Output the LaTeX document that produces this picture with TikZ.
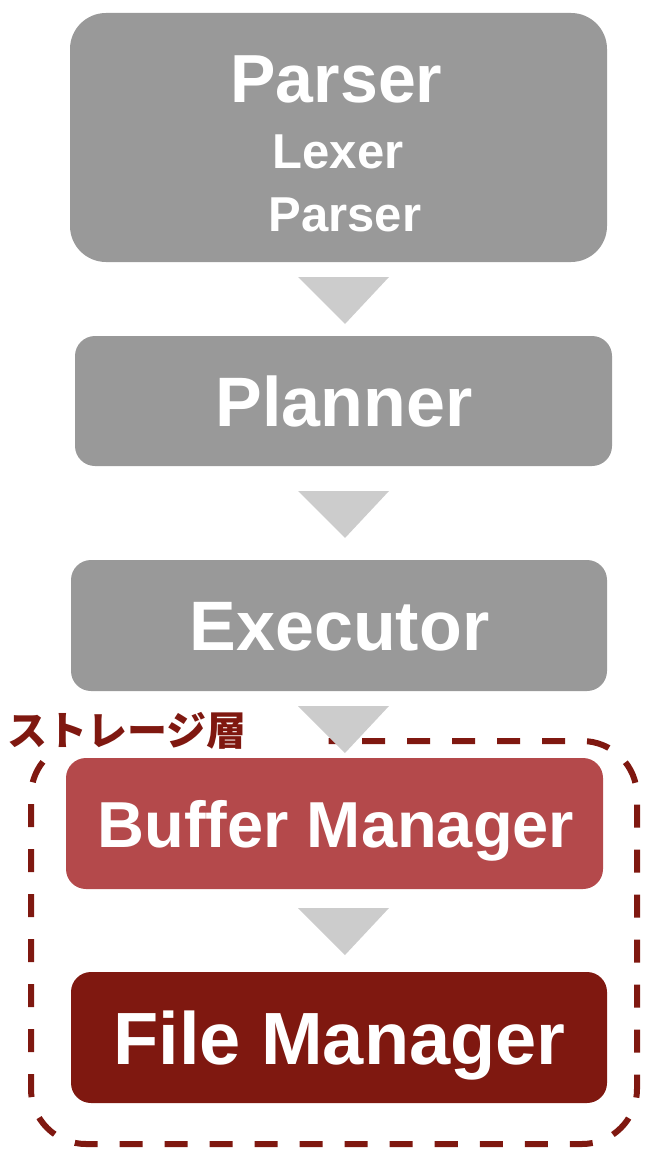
\documentclass[tikz,border=0pt]{standalone}
\usepackage{fontspec}
\setmainfont{Liberation Sans}
\newfontfamily\cjk{Noto Sans CJK JP}
\definecolor{boxgray}{HTML}{999999}
\definecolor{trigray}{HTML}{CCCCCC}
\definecolor{bufred}{HTML}{B4494B}
\definecolor{filered}{HTML}{7F1810}
\tikzset{
  stage/.style={rectangle, rounded corners=20pt, inner sep=0pt, draw=none},
  grayst/.style={stage, fill=boxgray, minimum width=537pt, minimum height=130pt},
  lbl/.style={anchor=base, inner sep=0pt, text=white, font=\bfseries\fontsize{70}{70}\selectfont},
  sublbl/.style={anchor=base, inner sep=0pt, text=white, font=\bfseries\fontsize{49}{49}\selectfont},
  tri/.style={fill=trigray},
  layer/.style={draw=filered, line width=6pt, dash pattern=on 23pt off 22pt, rounded corners=55pt}
}
\begin{document}
\begin{tikzpicture}[x=1pt,y=-1pt]
\useasboundingbox (0,0) rectangle (658,1158);
% storage layer frame
\draw[layer] (307,741) -- (637,741) -- (637,1144) -- (31,1144) -- (31,741) -- cycle;
\fill[white] (0,703) rectangle (306,752);
\fill[white] (280,736) rectangle (307,747);
\node[anchor=west, inner sep=0pt, text=filered, font=\cjk\bfseries\fontsize{40}{40}\selectfont] (layerlbl) at (7,731) {ストレージ層};
% boxes
\node[stage, fill=boxgray, minimum width=537pt, minimum height=249pt, rounded corners=36pt] (parser) at (338.5,137.5) {};
\node[grayst] (planner) at (343.5,401) {};
\node[grayst, minimum width=536pt, minimum height=131pt] (executor) at (339,625.5) {};
\node[stage, fill=bufred, minimum width=537pt, minimum height=131pt] (buffer) at (334.5,823.5) {};
\node[stage, fill=filered, minimum width=536pt, minimum height=131pt] (file) at (339,1037.5) {};
% texts
\node[lbl, font=\bfseries\fontsize{68}{68}\selectfont] (parsert) at (336.5,103) {Parser};
\node[sublbl] (lexert) at (338,169) {Lexer};
\node[sublbl] (parsert2) at (345,232) {Parser};
\node[lbl] (plannert) at (344,426) {Planner};
\node[lbl] (executort) at (339.5,650) {Executor};
\node[lbl, font=\bfseries\fontsize{65}{65}\selectfont] (buffert) at (336,847) {Buffer Manager};
\node[lbl, font=\bfseries\fontsize{74}{74}\selectfont] (filet) at (339.5,1064) {File Manager};
% triangles between stages
\fill[tri] (298,277) -- (389,277) -- (345,324) -- cycle;
\fill[tri] (298,491) -- (389,491) -- (345,538) -- cycle;
\fill[tri] (298,706) -- (389,706) -- (345,753) -- cycle;
\fill[tri] (298,908) -- (389,908) -- (345,955) -- cycle;
\end{tikzpicture}
\end{document}
